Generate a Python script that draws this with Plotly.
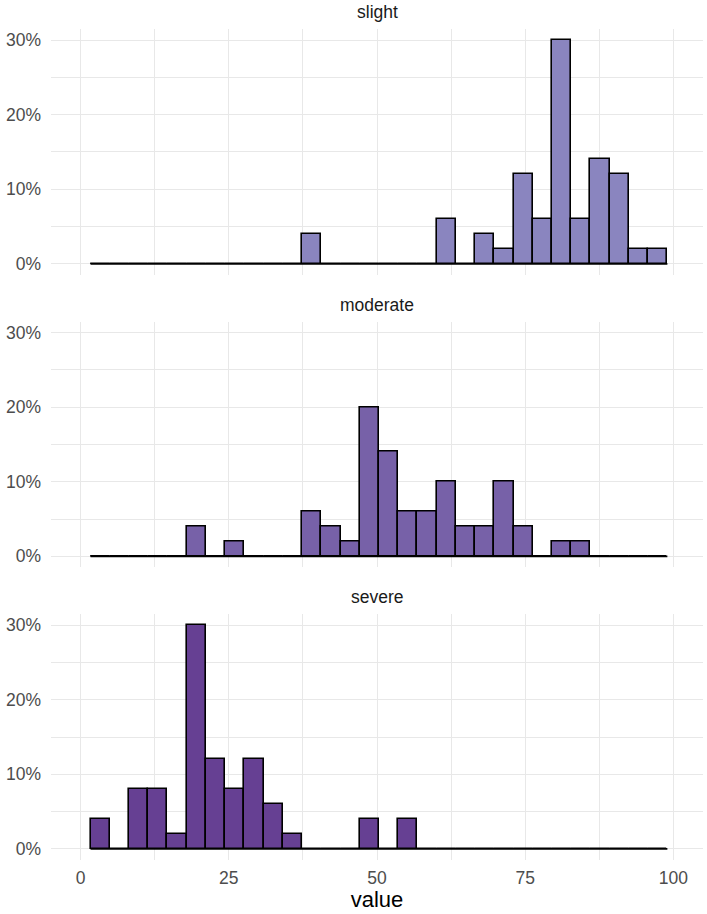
import plotly.graph_objects as go

# ---- data ----
groups = ["slight", "moderate", "severe"]
bin_left = 1.67      # left edge of first bin
bin_width = 3.244    # width of each bin
n_bins = 30

# percentage of observations in each of the 30 bins
pct_slight = [0, 0, 0, 0, 0, 0, 0, 0, 0, 0, 0, 4, 0, 0, 0, 0, 0, 0, 6, 0,
              4, 2, 12, 6, 30, 6, 14, 12, 2, 2]
pct_moderate = [0, 0, 0, 0, 0, 4, 0, 2, 0, 0, 0, 6, 4, 2, 20, 14, 6, 6, 10, 4,
                4, 10, 4, 0, 2, 2, 0, 0, 0, 0]
pct_severe = [4, 0, 8, 8, 2, 30, 12, 8, 12, 6, 2, 0, 0, 0, 4, 0, 4, 0, 0, 0,
              0, 0, 0, 0, 0, 0, 0, 0, 0, 0]

colors = {"slight": "#8A85BF", "moderate": "#7761A8", "severe": "#664093"}
y_ticks = [0, 0.1, 0.2, 0.3]
y_tick_labels = ["0%", "10%", "20%", "30%"]
x_ticks = [0, 25, 50, 75, 100]

values = {"slight": pct_slight, "moderate": pct_moderate, "severe": pct_severe}

centers = [bin_left + bin_width * (i + 0.5) for i in range(n_bins)]
right_edge = bin_left + bin_width * n_bins

W, H = 707, 914
ml, mr, mt, mb = 51, 4, 29, 54
domains = [[0.704, 1.0], [0.352, 0.648], [0.0, 0.296]]

fig = go.Figure()
grid_col = "#E8E8E8"
font_family = "Liberation Sans, Arial, sans-serif"
tick_font = dict(size=17.5, color="#4D4D4D", family=font_family)

for i, g in enumerate(groups):
    ax = "" if i == 0 else str(i + 1)
    xa = "x" + ax
    ya = "y" + ax
    fig.add_trace(go.Scatter(
        x=[bin_left, right_edge], y=[0, 0], mode="lines",
        line=dict(color="black", width=1.8), xaxis=xa, yaxis=ya,
        showlegend=False, hoverinfo="skip"))
    ys = [v / 100 for v in values[g]]
    fig.add_trace(go.Bar(
        x=centers, y=ys, width=bin_width,
        marker=dict(color=colors[g], line=dict(color="black", width=1.6)),
        xaxis=xa, yaxis=ya, showlegend=False))

    xdict = dict(
        range=[-5, 105], domain=[0, 1], anchor=ya,
        tickvals=x_ticks, showticklabels=(i == 2),
        showgrid=True, gridcolor=grid_col, gridwidth=1.3,
        minor=dict(dtick=12.5, tick0=0, showgrid=True, gridcolor=grid_col, gridwidth=0.7),
        zeroline=False, showline=False, ticks="",
        tickfont=tick_font, automargin=False,
        ticklabelstandoff=5,
    )
    if i > 0:
        xdict["matches"] = "x"
    if i == 2:
        xdict["title"] = dict(
            text="value", font=dict(size=22, color="#000000", family=font_family),
            standoff=0)
    fig.layout["xaxis" + ax] = xdict
    fig.layout["yaxis" + ax] = dict(
        range=[-0.015, 0.315], domain=domains[i], anchor=xa,
        tickvals=y_ticks, ticktext=y_tick_labels,
        showgrid=True, gridcolor=grid_col, gridwidth=1.3,
        minor=dict(dtick=0.05, tick0=0, showgrid=True, gridcolor=grid_col, gridwidth=0.7),
        zeroline=False, showline=False, ticks="",
        tickfont=tick_font, automargin=False,
        ticklabelstandoff=9,
    )
    fig.add_annotation(
        text=g, x=0.5, xref="paper", y=domains[i][1], yref="paper",
        yanchor="middle", yshift=17, showarrow=False,
        font=dict(size=17.5, color="#1A1A1A", family=font_family))

fig.update_layout(
    template="none",
    width=W, height=H,
    margin=dict(l=ml, r=mr, t=mt, b=mb),
    plot_bgcolor="white", paper_bgcolor="white",
    bargap=0, barmode="overlay",
    font=dict(family=font_family),
    showlegend=False,
)

fig.write_html("out.html",
               config={"displayModeBar": False},
               post_script="document.body.style.margin='0';document.body.style.overflow='hidden';")
